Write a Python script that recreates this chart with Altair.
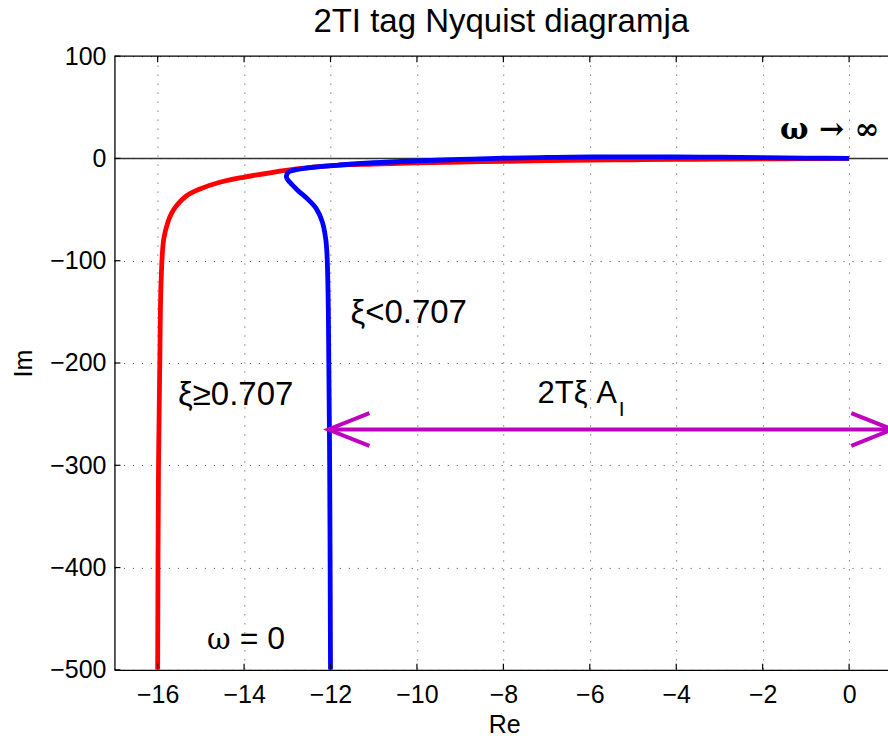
import altair as alt
import pandas as pd

# ---------------- data ----------------
red_x = [-16.0, -15.98, -15.95, -15.92, -15.86, -15.76, -15.67, -15.56, -15.33, -15.02,
         -14.56, -14.02, -13.33, -12.79, -12.0, -11.0, -10.0, -9.0, -8.0, -7.0,
         -6.0, -5.0, -4.0, -3.0, -2.0, -1.0, 0.0]
red_y = [-500, -300, -200, -120, -79, -62, -53, -46, -36.4, -29.8,
         -23.3, -18.4, -13.5, -10.3, -7.0, -5.5, -4.4, -3.5, -2.8, -2.2,
         -1.7, -1.3, -1.0, -0.7, -0.4, -0.2, 0.0]

blue_x = [-12.0, -12.02, -12.05, -12.08, -12.11, -12.19, -12.33, -12.52, -12.75, -12.94,
          -13.02, -12.98, -12.79, -12.4, -11.8, -11.0, -10.0, -9.0, -8.0, -7.0,
          -6.0, -5.0, -4.0, -3.0, -2.0, -1.0, 0.0]
blue_y = [-500, -300, -150, -95, -79, -62, -49, -40, -31.5, -23.3,
          -18.4, -13.5, -10.9, -8.6, -6.4, -4.2, -2.4, -1.0, 0.3, 1.0,
          1.4, 1.5, 1.4, 1.2, 0.8, 0.4, 0.0]

# double arrow (shaft + two heads), in data units
arrow_group = ["shaft", "shaft", "left", "left", "left", "right", "right", "right"]
arrow_x = [-12.05, 1.0, -11.1, -12.05, -11.1, 0.05, 1.0, 0.05]
arrow_y = [-265, -265, -249, -265, -281, -249, -265, -281]

x_ticks = [-16, -14, -12, -10, -8, -6, -4, -2, 0]
y_ticks = [-500, -400, -300, -200, -100, 0, 100]

sans_labels = ["ξ<0.707", "ξ≥0.707"]
sans_x = [-11.54, -15.53]
sans_y = [-161.2, -241.0]

FONT = "Liberation Sans"
SERIF = "DejaVu Serif"
W, H = 774, 614

# ---------------- encodings ----------------
x_axis = alt.Axis(values=x_ticks, title="Re", grid=True, ticks=False, tickSize=0,
                  domain=True, domainColor="black", domainWidth=1.3,
                  labelFont=FONT, labelFontSize=25, labelColor="black",
                  labelPadding=33, labelBaseline="alphabetic", labelFlush=False,
                  labelOverlap=False,
                  gridColor="black", gridOpacity=0.75, gridDash=[1, 8], gridWidth=1,
                  titleFont=FONT, titleFontSize=25, titleFontWeight="normal",
                  titleColor="black", titleX=390, titleY=63, titleAlign="center",
                  titleBaseline="alphabetic")
y_axis = alt.Axis(values=y_ticks, title="Im", grid=True, ticks=False, tickSize=0,
                  domain=True, domainColor="black", domainWidth=1.3,
                  labelFont=FONT, labelFontSize=25, labelColor="black",
                  labelPadding=8.5, labelFlush=False, labelOverlap=False,
                  gridColor="black", gridOpacity=0.75, gridDash=[1, 8], gridWidth=1,
                  titleFont=FONT, titleFontSize=25, titleFontWeight="normal",
                  titleColor="black", titleX=-83, titleY=307, titleAngle=270,
                  titleAlign="center", titleBaseline="alphabetic")


def X():
    return alt.X("x:Q", scale=alt.Scale(domain=[-17, 0.9], nice=False, zero=False), axis=x_axis)


def Y():
    return alt.Y("y:Q", scale=alt.Scale(domain=[-500, 100], nice=False, zero=False), axis=y_axis)


df_red = pd.DataFrame({"x": red_x, "y": red_y, "i": range(len(red_x))})
df_blue = pd.DataFrame({"x": blue_x, "y": blue_y, "i": range(len(blue_x))})
df_arrow = pd.DataFrame({"x": arrow_x, "y": arrow_y, "g": arrow_group, "i": range(len(arrow_x))})
df_zero = pd.DataFrame({"y": [0]})
df_xt = pd.DataFrame({"x": x_ticks})
df_yt = pd.DataFrame({"y": y_ticks})
df_one = pd.DataFrame({"a": [0]})
df_sans = pd.DataFrame({"x": sans_x, "y": sans_y, "label": sans_labels})
df_2t = pd.DataFrame({"x": [-7.21], "y": [-238.7], "label": ["2Tξ A"]})
df_eq = pd.DataFrame({"x": [-14.1], "y": [-479.6], "label": ["= 0"]})
df_om = pd.DataFrame({"x": [-14.86], "y": [-479.6], "label": ["ω"]})
df_sub = pd.DataFrame({"x": [-5.33], "y": [-252.3], "label": ["I"]})
df_inf = pd.DataFrame({"x": [-1.6], "y": [19.0], "label": ["ω → ∞"]})

zero_line = alt.Chart(df_zero).mark_rule(color="#333333", strokeWidth=1.6).encode(
    y=Y(), x=alt.value(0), x2=alt.value(W))

red = alt.Chart(df_red).mark_line(color="#ff0000", strokeWidth=4.8, clip=True,
                                  interpolate="catmull-rom").encode(
    x=X(), y=Y(), order="i:Q")
blue = alt.Chart(df_blue).mark_line(color="#0000ff", strokeWidth=4.8, clip=True,
                                    interpolate="catmull-rom").encode(
    x=X(), y=Y(), order="i:Q")
arrow = alt.Chart(df_arrow).mark_line(color="#bf00bf", strokeWidth=4, clip=True).encode(
    x=X(), y=Y(), detail="g:N", order="i:Q")

t_sans = alt.Chart(df_sans).mark_text(font=FONT, fontSize=33, align="left",
                                      baseline="alphabetic", color="black").encode(
    x=X(), y=Y(), text="label:N")
t_2t = alt.Chart(df_2t).mark_text(font=FONT, fontSize=31, align="left",
                                  baseline="alphabetic", color="black").encode(
    x=X(), y=Y(), text="label:N")
t_eq = alt.Chart(df_eq).mark_text(font=FONT, fontSize=32, align="left",
                                  baseline="alphabetic", color="black").encode(
    x=X(), y=Y(), text="label:N")
t_om = alt.Chart(df_om).mark_text(font=SERIF, fontSize=29, align="left",
                                  baseline="alphabetic", color="black").encode(
    x=X(), y=Y(), text="label:N")
t_sub = alt.Chart(df_sub).mark_text(font=FONT, fontSize=21, align="left",
                                    baseline="alphabetic", color="black").encode(
    x=X(), y=Y(), text="label:N")
t_inf = alt.Chart(df_inf).mark_text(font=SERIF, fontSize=30, fontWeight="bold", align="left",
                                    baseline="alphabetic", color="black").encode(
    x=X(), y=Y(), text="label:N")

tick_b = alt.Chart(df_xt).mark_rule(color="black", strokeWidth=1.2).encode(
    x=X(), y=alt.value(H), y2=alt.value(H - 6))
tick_t = alt.Chart(df_xt).mark_rule(color="black", strokeWidth=1.2).encode(
    x=X(), y=alt.value(0), y2=alt.value(6))
tick_l = alt.Chart(df_yt).mark_rule(color="black", strokeWidth=1.2).encode(
    y=Y(), x=alt.value(0), x2=alt.value(6))
top_border = alt.Chart(df_one).mark_rule(color="black", strokeWidth=1.3).encode(
    x=alt.value(0), x2=alt.value(W), y=alt.value(0))

chart = alt.layer(
    zero_line, red, blue, arrow, t_sans, t_2t, t_eq, t_om, t_sub, t_inf,
    tick_b, tick_t, tick_l, top_border
).properties(
    width=W, height=H,
    title=alt.TitleParams("2TI tag Nyquist diagramja", font=FONT, fontSize=33,
                          fontWeight="normal", color="black", anchor="middle",
                          frame="group", baseline="alphabetic", offset=10, dy=31),
    autosize=alt.AutoSizeParams(type="none"),
    padding={"left": 114.5, "top": 56, "right": 0, "bottom": 70},
).configure_view(stroke=None)

chart.save("out.html", embed_options={"renderer": "svg", "actions": False})
